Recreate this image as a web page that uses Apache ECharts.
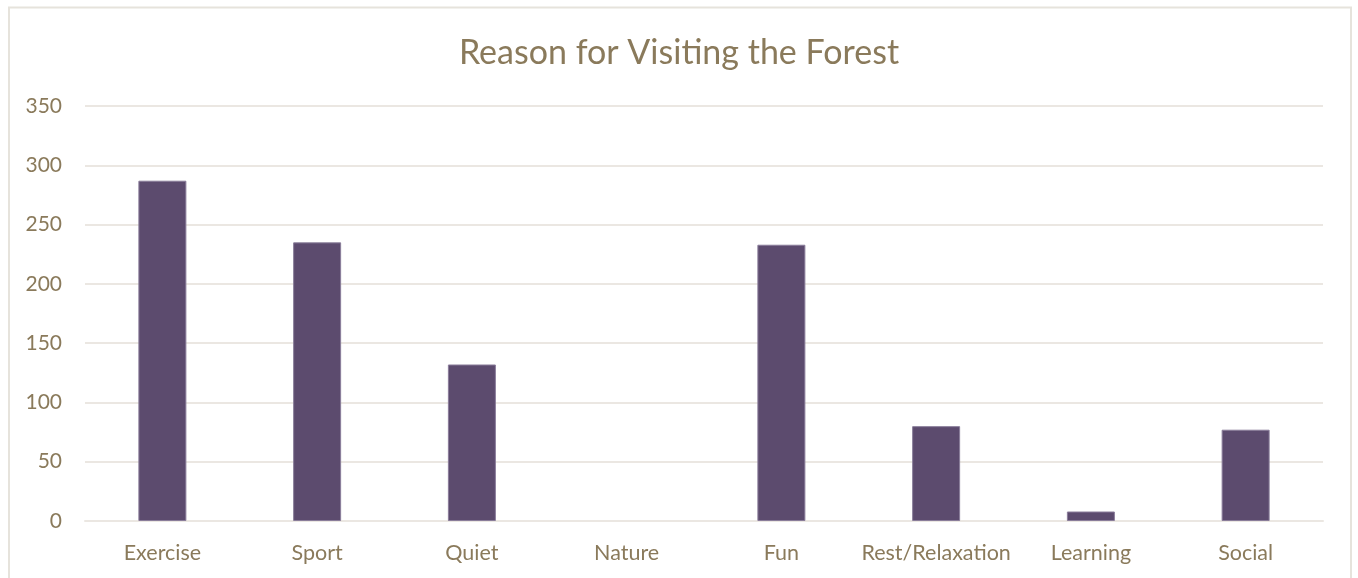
<!DOCTYPE html>
<html>
<head>
<meta charset="utf-8">
<script src="https://cdn.jsdelivr.net/npm/echarts@6/dist/echarts.min.js"></script>
<style>
html,body{margin:0;padding:0;background:#fff;}
#chart{width:1358px;height:578px;}
</style>
</head>
<body>
<div id="chart"></div>
<script>
const categories = ["Exercise","Sport","Quiet","Nature","Fun","Rest/Relaxation","Learning","Social"];
const visits = [287, 235, 132, 0, 233, 80, 8, 77];
const yTicks = [0, 50, 100, 150, 200, 250, 300, 350];

const textColor = '#8a7a5b';
const gridColor = '#ebe7e2';
const chart = echarts.init(document.getElementById('chart'));
chart.setOption({
  animation: false,
  backgroundColor: '#ffffff',
  title: {
    text: 'Reason for Visiting the Forest',
    left: 'center',
    top: 31,
    textStyle: {fontFamily: 'Lato', fontSize: 34, fontWeight: 'normal', color: textColor}
  },
  graphic: [{
    type: 'rect',
    shape: {x: 9, y: 7.5, width: 1342, height: 620},
    style: {fill: 'none', stroke: '#e6e3dc', lineWidth: 2},
    silent: true
  }],
  grid: {left: 85, right: 35, top: 106, bottom: 57},
  xAxis: {
    type: 'category',
    data: categories,
    axisLine: {show: true, lineStyle: {color: gridColor, width: 2}},
    axisTick: {show: false},
    axisLabel: {color: textColor, fontFamily: 'Lato', fontSize: 21.5, margin: 21, interval: 0}
  },
  yAxis: {
    type: 'value',
    min: yTicks[0],
    max: yTicks[yTicks.length - 1],
    interval: 50,
    axisLine: {show: false},
    axisTick: {show: false},
    splitLine: {lineStyle: {color: gridColor, width: 2}},
    axisLabel: {color: textColor, fontFamily: 'Lato', fontSize: 21, margin: 23}
  },
  series: [{
    type: 'bar',
    data: visits.map(v => ({value: v, itemStyle: {borderWidth: v > 0 ? 1 : 0}})),
    barWidth: 48,
    itemStyle: {color: '#5c4b6e', borderColor: '#8a7d9a'}
  }]
});
</script>
</body>
</html>
